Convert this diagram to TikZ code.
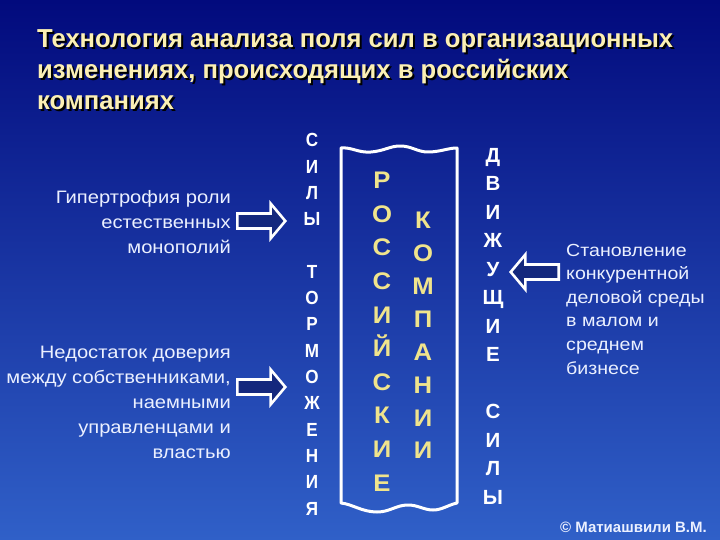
\documentclass[tikz,border=0pt]{standalone}
\usepackage{fontspec}
\setmainfont{Liberation Sans}
\newfontfamily\narrowfont[FakeStretch=0.985]{Liberation Sans}
\newfontfamily\tallfont[FakeStretch=0.9]{Liberation Sans}
\newfontfamily\widefont[FakeStretch=1.07]{Liberation Sans}
\newfontfamily\causefont[FakeStretch=1.12]{Liberation Sans}
\usetikzlibrary{shapes.arrows}

\definecolor{bgtop}{RGB}{2,10,125}
\definecolor{bgmid}{RGB}{22,52,165}
\definecolor{bgbot}{RGB}{48,96,200}
\definecolor{titleyellow}{RGB}{252,240,180}
\definecolor{gold}{RGB}{240,228,140}
\definecolor{paletext}{RGB}{235,240,255}
\definecolor{arrowfill}{RGB}{20,40,125}

\begin{document}
\begin{tikzpicture}[x=1pt,y=-1pt,title/.style={font=\narrowfont\bfseries\fontsize{26}{31}\selectfont,align=left,anchor=north west,inner sep=0pt},cause/.style={font=\causefont\fontsize{18}{25}\selectfont,text=paletext,inner sep=0pt},letterW/.style={font=\tallfont\bfseries\fontsize{19}{19}\selectfont,text=white,text height=13.6pt,text depth=0pt,inner sep=0pt},letterD/.style={letterW,font=\bfseries\fontsize{20.5}{20.5}\selectfont,text height=14.7pt},letterY/.style={font=\widefont\bfseries\fontsize{24}{24}\selectfont,text=gold,text height=17.2pt,text depth=0pt,inner sep=0pt},force/.style={single arrow,draw=white,line width=2.6pt,fill=arrowfill,minimum height=48pt,text height=0pt,text depth=0pt,inner xsep=0pt,inner ysep=6.2pt,single arrow tip angle=100,single arrow head extend=10pt}]
\def\dyB{26.3};
\def\dyD{28.5};
\def\dyR{33.6};
\def\dyK{32.9};

\useasboundingbox (0,0) rectangle (720,540);
\fill[top color=bgtop,middle color=bgmid,bottom color=bgbot] (0,0) rectangle (720,540);

\node[title,text=black] (titleshadow) at (39,31) {Технология анализа поля сил в организационных\\изменениях, происходящих в российских\\компаниях};
\node[title,text=titleyellow] (heading) at (37,29) {Технология анализа поля сил в организационных\\изменениях, происходящих в российских\\компаниях};

\draw[white,line width=3pt,line join=round] (341,148) .. controls (352,147) and (358,153) .. (371,152) .. controls (384,151) and (390,146) .. (400,146) .. controls (412,146) and (417,152) .. (428,152) .. controls (440,152) and (448,148) .. (457,148) -- (457,503) .. controls (448,505) and (442,510) .. (433,510) .. controls (424,510) and (418,505) .. (408,505) .. controls (396,505) and (390,512) .. (377,512) .. controls (362,512) and (352,504) .. (341,503) -- cycle;

\foreach \ch/\k in {Р/0,О/1,С/2,С/3,И/4,Й/5,С/6,К/7,И/8,Е/9}
  \node[letterY] (rus\k) at (382,180+\dyR*\k) {\ch};
\foreach \ch/\k in {К/0,О/1,М/2,П/3,А/4,Н/5,И/6,И/7}
  \node[letterY] (comp\k) at (423,220+\dyK*\k) {\ch};

\foreach \ch/\k in {С/0,И/1,Л/2,Ы/3,Т/5,О/6,Р/7,М/8,О/9,Ж/10,Е/11,Н/12,И/13,Я/14}
  \node[letterW] (brake\k) at (312,140+\dyB*\k) {\ch};
\foreach \ch/\k in {Д/0,В/1,И/2,Ж/3,У/4,Щ/5,И/6,Е/7,С/9,И/10,Л/11,Ы/12}
  \node[letterD] (drive\k) at (493,155+\dyD*\k) {\ch};

\node[force,anchor=tip] (inhib1) at (287,221) {};
\node[force,anchor=tip] (inhib2) at (287,387) {};
\node[force,shape border rotate=180,anchor=tip] (push) at (509,272) {};

\node[cause,align=right,anchor=east] (hyper) at (231,222) {Гипертрофия роли\\естественных\\монополий};
\node[cause,align=right,anchor=east] (trust) at (231,402) {Недостаток доверия\\между собственниками,\\наемными\\управленцами и\\властью\ };
\node[cause,font=\causefont\fontsize{17.5}{23.6}\selectfont,align=left,anchor=west] (compet) at (566,309) {Становление\\конкурентной\\деловой среды\\в малом и\\среднем\\бизнесе};

\node[font=\bfseries\fontsize{15}{15}\selectfont,text=paletext,anchor=east,inner sep=0pt] (author) at (707,527) {© Матиашвили В.М.};
\end{tikzpicture}
\end{document}
